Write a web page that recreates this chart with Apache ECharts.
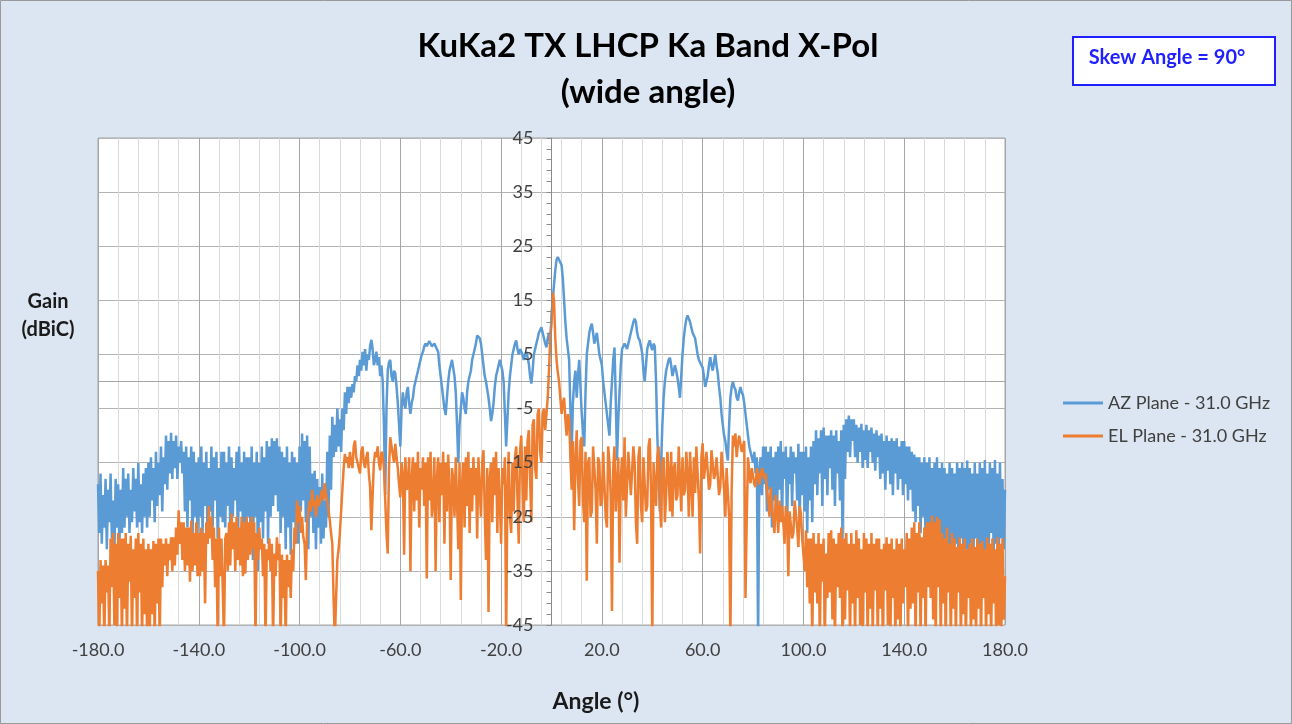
<!DOCTYPE html>
<html>
<head>
<meta charset="utf-8">
<script src="https://cdn.jsdelivr.net/npm/echarts@6/dist/echarts.min.js"></script>
<style>
  html, body { margin: 0; padding: 0; }
  #main { width: 1292px; height: 724px; }
</style>
</head>
<body>
<div id="main"></div>
<script>
// angle axis: one sample every half degree, -180 .. 180
const angleStart = -180
const angleStep = 0.5

// AZ plane, 31.0 GHz (dBiC); one row = 10 degrees
const azGain = [
  -19, -28, -17, -30, -21, -27, -18, -31, -20, -26, -17, -29, -22, -32, -18, -27, -19, -30, -20, -28, // -180
  -16, -27, -18, -25, -17, -28, -20, -26, -16, -24, -18, -27, -15, -26, -19, -28, -17, -25, -16, -27, // -170
  -15, -25, -14, -22, -16, -26, -13, -23, -15, -21, -12, -24, -14, -19, -10, -20, -11, -17, -9.5, -18, // -160
  -11, -16, -10, -18, -12, -15, -11, -17, -13, -24, -12, -27, -14, -22, -12, -30, -13, -25, -15, -28, // -150
  -14, -25, -12, -28, -15, -23, -13, -30, -16, -24, -12, -27, -14, -22, -13, -29, -16, -25, -13, -26, // -140
  -13, -27, -15, -23, -12, -28, -14, -25, -16, -22, -13, -29, -12, -24, -15, -26, -13, -31, -14, -25, // -130
  -14, -27, -12, -33, -15, -25, -13, -35, -15, -26, -12, -29, -14, -24, -11, -30, -12, -25, -10.5, -23, // -120
  -11, -21, -10.5, -24, -12, -28, -13, -25, -14, -31, -12, -27, -15, -32, -13, -26, -14, -29, -15, -30, // -110
  -12, -24, -9.6, -22, -11, -26, -10, -31, -12, -25, -17, -28, -16.5, -31, -18, -27, -19.5, -30, -17, -29, // -100
  -22, -27, -13, -25, -10, -20, -6.5, -14, -8, -13, -5, -12, -7, -13, -5, -9, -2, -6, -1, -4, // -90
  -1, -3, -0.5, -2, 1, 0, 3, 1, 4, 2, 5.5, 3, 6, 2, 5, 4, 6.5, 7.7, 6, 3, // -80
  4, 5.5, 3, 4.5, 1, 3, 0, -8, -21, -5, 2, 3.5, 4, 1, 0, 2, 1.5, -1, -4, -8, // -70
  -12, -5, -2, -4, -5, -2, -1, -4, -6, -4, -3, -1, 0, 1, 2, 3, 4, 5, 5.5, 6.5, // -60
  7, 6.5, 6.5, 7.5, 7.5, 6.5, 6.2, 7, 7, 6, 5.5, 3, 1, -1, -3, -5, -6.2, -3, 0, 2, // -50
  3, 4, 4, 1, -2, -8, -15, -8, -5, -2, -3, -5, -6, -2, 0, 1, 2, 4, 5, 6, // -40
  7, 8.5, 8.5, 8, 7, 5, 3, 1, 0, -1.5, -3, -5, -7.3, -6, -4, -1, 1, 2, 3, 4, // -30
  4, 2, 0, -6, -12, -7, -2, 1, 3, 5, 6, 7, 7.6, 6, 5, 6, 6.3, 5, 4, 5, // -20
  5.5, 4.5, 3.3, 1, -0.4, 2, 5, 6, 7, 8, 9, 9.5, 10, 9, 8, 7, 6.3, 8, 9, 7, // -10
  12, 15, 18, 20.5, 22.5, 23, 22.7, 22, 21.5, 19, 15, 11, 8, 6, 4, -5, -13, -4, 0, 2, // 0
  -3, 1, 4, -1, -6, -9, -12, -2, 5, 7, 9, 10, 10.7, 9, 7, 8, 9, 7, 5, 4, // 10
  3, 0, -2, -4, -6, -8, -10, -4, 0, 4, 6.3, -3, -14.6, -7, -2, 3, 6, 6.5, 7, 6.5, // 20
  6, 7, 8, 9, 10, 11, 11.6, 11, 9, 8, 7.6, 6.5, 5.2, 2, 0, 3, 6, 7, 7.6, 6.5, // 30
  5.8, 7, 6.5, 0, -10, -17, -24, -15, -8, -3, 0, 2, 3, 4, 4.4, 3, 1, 2, 3, 2, // 40
  0.7, -1, -3, 1, 5, 8, 10, 11.5, 12.2, 12, 11, 10, 9, 8.5, 8, 6.5, 5, 4, 3.5, 3, // 50
  2.6, 1, -1, 0, 1, 3, 4.5, 3, 2, 3.5, 5, 3, 1.5, -1, -3, -6, -8, -10, -11, -13, // 60
  -14.6, -8, -3, -1, 0, -1, -1.5, -3, -3.5, -2, -1, -2, -2.5, -4, -6, -8, -10, -12, -12, -14, // 70
  -15, -13, -17, -14, -48, -16, -14, -21, -12, -19, -12, -24, -13, -20, -12, -27, -14, -22, -13, -25, // 80
  -12, -20, -11, -25, -13, -18, -12, -27.5, -14, -19, -12, -23, -13, -17, -14, -22, -11.5, -26, -13, -21, // 90
  -13, -24, -12, -28, -14, -22, -12, -26, -11, -19, -9, -21, -10.5, -17, -9, -23, -8.5, -18, -10, -21, // 100
  -10, -16, -9, -20, -10, -23, -9, -17, -11, -22, -9, -29, -8, -18, -7, -13, -6.3, -14, -7, -11, // 110
  -7, -14, -8, -15, -8.5, -13, -7.8, -16, -9, -14.5, -8, -16, -9, -13, -8.5, -15, -9.6, -16.5, -9, -14, // 120
  -10, -18, -9.6, -17, -11, -20, -10, -16.5, -11, -19, -10.5, -21, -11, -17, -10.5, -20, -12, -18, -11, -21, // 130
  -11, -19, -12, -22, -12, -20, -13, -24, -13.5, -26, -14, -23, -14, -28, -15, -25, -14, -30, -15, -27, // 140
  -14, -27, -16, -32, -15, -28, -14, -35, -16, -30, -15, -40, -16, -29, -17, -33, -15, -31, -16, -34, // 150
  -17, -30, -15, -34, -16, -29, -15, -33, -16, -31, -14.6, -35, -16, -30, -17, -32, -15, -29, -17, -35, // 160
  -15, -30, -16, -33, -14.5, -31, -17, -34, -15, -28, -16, -32, -14.5, -30, -17, -34, -15, -29, -18, -31, // 170
  -20 // 180
]

// EL plane, 31.0 GHz (dBiC); one row = 10 degrees
const elGain = [
  -35, -48, -33, -41, -34, -48, -33, -39, -34, -48, -29, -38, -28, -45, -30, -48, -28, -40, -29, -48, // -180
  -29, -42, -28, -48, -30, -37, -28.5, -48, -31, -40, -29, -48, -28, -39, -30, -48, -29, -43, -31, -48, // -170
  -30, -48, -31, -43, -29.5, -48, -30, -41, -29, -48, -29, -38, -30, -34, -29, -36, -30, -33, -28.8, -35, // -160
  -28.8, -34, -27, -32, -23.8, -30, -26, -33, -26, -35, -27, -34, -27, -37, -25.7, -35, -28, -34, -26, -36, // -150
  -28, -36, -27, -35, -28, -41, -26, -30, -23, -29, -25, -33, -27, -38, -29, -48, -27, -36, -29, -38, // -140
  -48, -29, -28, -35, -26, -34, -24.4, -31, -26, -35, -25, -33, -27, -34, -25, -36, -26, -35.5, -25, -33, // -130
  -26, -32, -25, -31, -26, -48, -28, -33, -27, -31, -29, -36, -30, -48, -31, -33, -29, -35, -30, -48, // -120
  -31.8, -36, -28.8, -33, -30, -48, -32, -40, -33, -48, -32, -38, -33, -40, -31, -35, -27, -30, -22, -26, // -110
  -23, -28, -25, -28.8, -30, -36.7, -26, -24, -22, -24, -20, -23, -22, -25, -21, -23, -22.5, -21, -20, -22, // -100
  -18.8, -21, -22, -24, -25.6, -28, -30, -40, -48, -40, -33, -31, -28, -24, -20, -16, -13.4, -15, -14, -16, // -90
  -13, -15, -16, -12, -10.9, -14, -14, -16, -17, -13, -12, -15, -16, -14, -13, -17, -19.5, -27.5, -21, -15, // -80
  -13, -14, -12, -15, -16.4, -13, -13.5, -16, -22, -28, -31.8, -16, -10.3, -12, -12, -15, -11.5, -14, -16, -19, // -70
  -21.4, -15, -17, -32, -14, -20, -19, -14, -35, -18, -14, -24, -15, -22, -13, -27, -16, -20, -14, -23, // -60
  -15, -36.4, -14, -22, -13, -25, -22, -14, -35, -18, -14, -26, -15, -21, -13, -30, -15, -24, -13.5, -20, // -50
  -36.7, -16, -18, -25, -14, -22, -31, -15, -40.4, -19, -15, -27, -14, -23, -13, -28, -16, -24, -14, -21, // -40
  -16, -29, -14, -20, -25, -15, -12.7, -24, -33, -16, -42.6, -18, -15, -26, -14, -21, -13, -28, -16, -22, // -30
  -30, -16, -19, -14, -48, -20, -13, -25, -28, -15, -24, -14, -12, -22, -30, -13, -10, -19, -26, -12, // -20
  -22, -11, -9, -18, -26, -8, -7, -16, -18, -6, -5, -13, -15, -6, -5, -9, -6, -3, 2, 8, // -10
  11, 16.4, 15, 8, 4, 1.7, 0, -3, -6, -4, -3, -7, -10, -6, -7, -14, -20, -11, -27.5, -15, // 0
  -9, -18, -23, -11, -10.3, -22, -26, -13, -36.8, -15, -14, -25, -24, -12, -12, -20, -30, -14, -15, -23, // 10
  -22, -13, -13, -25, -27, -12, -15, -21, -42.4, -16, -12, -24, -24, -14, -33.5, -18, -14, -22, -10.3, -25, // 20
  -25, -13, -13, -21, -21, -12, -15, -26, -30, -14, -12, -23, -26, -14, -14, -24, -23, -12, -10.5, -20, // 30
  -48, -15, -19, -23, -14, -12, -22, -27, -15, -14, -26, -21, -13, -17, -24, -13, -25, -16, -15, -22, // 40
  -21, -12, -18, -24, -14, -21, -20, -13, -17, -25, -13, -19, -25, -14, -20.6, -12, -12, -22, -31.8, -14, // 50
  -11.4, -18, -15.8, -13, -13, -20, -19, -12.7, -12.7, -18, -17, -14, -14, -21, -19.5, -13, -13, -20, -25, -16, // 60
  -16, -25, -48, -20, -10, -12, -9.6, -14, -11.5, -10, -10, -13, -12, -11, -40, -25, -14, -17, -18.8, -16, // 70
  -16, -19, -19.5, -16, -17, -19, -19, -16, -15.8, -18, -17, -20, -22, -25, -19.5, -23, -25.6, -28, -21, -24, // 80
  -28, -22, -26, -23, -26, -30, -23, -25, -36, -24, -24, -29, -28, -22, -22, -27, -30.6, -23, -24.4, -29, // 90
  -29, -35, -27.5, -38, -29, -41, -29, -48, -28, -39, -30, -41, -28, -48, -30, -37, -29, -48, -31.8, -40, // 100
  -28, -39, -27.5, -44, -29, -48, -30, -38, -28, -40, -27, -48, -29, -44, -28, -38.6, -30, -48, -28, -41, // 110
  -30, -48, -27.5, -40, -29, -45, -31, -48, -28, -39, -29, -48, -30, -42, -28, -48, -30, -38.6, -29, -48, // 120
  -29, -42, -31, -48, -30, -38.6, -28.8, -45, -30, -48, -29, -40, -31, -48, -29, -44, -30, -48, -29, -41, // 130
  -31, -38, -28, -48, -29, -42, -27, -41, -26, -48, -28, -39, -26, -48, -28.8, -40, -27, -48, -26, -38, // 140
  -26, -40, -24.8, -44, -26, -48, -25, -38, -25.5, -48, -28, -41, -29, -48, -27, -39, -30, -48, -28, -42, // 150
  -29, -48, -30.6, -39, -28.8, -48, -30, -43, -29, -48, -31, -40, -30, -48, -29, -44, -30.6, -48, -29, -42, // 160
  -30, -48, -29.5, -40, -31, -48, -28.8, -43, -30, -48, -29, -41, -31, -48, -28.8, -45, -30, -48, -29, -44, // 170
  -36 // 180
]

const seriesNames = ['AZ Plane - 31.0 GHz', 'EL Plane - 31.0 GHz']
const seriesColors = ['#5b9bd5', '#ed7d31']

const toPoints = arr => arr.map((v, i) => [angleStart + i * angleStep, v])

const chart = echarts.init(document.getElementById('main'))

// plot box in pixels
const gridLeft = 98
const gridRight = 287
const plotWidth = 1292 - gridLeft - gridRight
// the vertical axis sits on 0 degrees
const yAxisShift = -plotWidth / 2

const option = {
  backgroundColor: '#dce6f2',
  animation: false,
  textStyle: { fontFamily: 'Lato' },
  grid: {
    left: gridLeft, right: gridRight, top: 138, bottom: 99,
    show: true, backgroundColor: '#ffffff', borderColor: '#a6a6a6', borderWidth: 1
  },
  xAxis: [
    {
      type: 'value', min: -180, max: 180, interval: 40,
      axisLine: { show: false, onZero: false },
      axisTick: { show: false },
      axisLabel: { fontSize: 18, color: '#404040', margin: 16, formatter: v => v.toFixed(1) },
      splitLine: { show: true, lineStyle: { color: '#a6a6a6', width: 1 } },
      minorTick: { show: false, splitNumber: 5 },
      minorSplitLine: { show: true, lineStyle: { color: '#d9d9d9', width: 1 } }
    },
    {
      // horizontal axis line crossing at 0 dBiC
      type: 'value', min: -180, max: 180, position: 'bottom',
      axisLine: { show: true, onZero: true, lineStyle: { color: '#a6a6a6' } },
      axisTick: { show: false },
      axisLabel: { show: false },
      splitLine: { show: false }
    }
  ],
  yAxis: [
    {
      // gridlines only, drawn under the data
      type: 'value', min: -45, max: 45, interval: 10,
      position: 'left',
      axisLine: { show: false, onZero: false },
      axisTick: { show: false },
      axisLabel: { show: false },
      splitLine: { show: true, lineStyle: { color: '#b3b3b3', width: 1 } }
    },
    {
      // the labelled axis on 0 degrees, drawn over the data
      type: 'value', min: -45, max: 45, interval: 10,
      position: 'left', offset: yAxisShift, z: 5,
      axisLine: { show: true, onZero: false, lineStyle: { color: '#8c8c8c' } },
      axisTick: { show: true, length: 5, lineStyle: { color: '#8c8c8c' } },
      minorTick: { show: true, splitNumber: 5, length: 5, lineStyle: { color: '#8c8c8c' } },
      axisLabel: { fontSize: 18, color: '#404040', margin: 18 },
      splitLine: { show: false }
    }
  ],
  legend: {
    orient: 'vertical', left: 1058, top: 389,
    itemGap: 15, itemWidth: 40, itemHeight: 3, icon: 'rect',
    textStyle: { fontSize: 18, color: '#404040' },
    data: seriesNames
  },
  series: [
    {
      name: seriesNames[0], type: 'line', yAxisIndex: 0,
      data: toPoints(azGain),
      showSymbol: false, symbol: 'none',
      lineStyle: { width: 2.5, color: seriesColors[0] },
      itemStyle: { color: seriesColors[0] }
    },
    {
      name: seriesNames[1], type: 'line', yAxisIndex: 0,
      data: toPoints(elGain),
      showSymbol: false, symbol: 'none',
      lineStyle: { width: 2.5, color: seriesColors[1] },
      itemStyle: { color: seriesColors[1] }
    }
  ],
  graphic: [
    {
      type: 'rect', silent: true,
      shape: { x: 0.5, y: 0.5, width: 1291, height: 723 },
      style: { fill: 'none', stroke: '#9a9a9a', lineWidth: 1 }
    },
    {
      type: 'text', x: 648, y: 46,
      style: { text: 'KuKa2 TX LHCP Ka Band X-Pol', font: 'bold 33px Lato', fill: '#000000', textAlign: 'center', textVerticalAlign: 'middle' }
    },
    {
      type: 'text', x: 648, y: 92,
      style: { text: '(wide angle)', font: 'bold 33px Lato', fill: '#000000', textAlign: 'center', textVerticalAlign: 'middle' }
    },
    {
      type: 'rect',
      shape: { x: 1073, y: 37, width: 202, height: 48 },
      style: { fill: '#ffffff', stroke: '#1f1fff', lineWidth: 2 }
    },
    {
      type: 'text', x: 1167, y: 58,
      style: { text: 'Skew Angle = 90°', font: 'bold 20px Lato', fill: '#1f1fff', textAlign: 'center', textVerticalAlign: 'middle' }
    },
    {
      type: 'text', x: 48, y: 302,
      style: { text: 'Gain', font: 'bold 20px Lato', fill: '#1a1a1a', textAlign: 'center', textVerticalAlign: 'middle' }
    },
    {
      type: 'text', x: 48, y: 330,
      style: { text: '(dBiC)', font: 'bold 20px Lato', fill: '#1a1a1a', textAlign: 'center', textVerticalAlign: 'middle' }
    },
    {
      type: 'text', x: 596, y: 702,
      style: { text: 'Angle (°)', font: 'bold 23px Lato', fill: '#1a1a1a', textAlign: 'center', textVerticalAlign: 'middle' }
    }
  ]
}

chart.setOption(option)
</script>
</body>
</html>
